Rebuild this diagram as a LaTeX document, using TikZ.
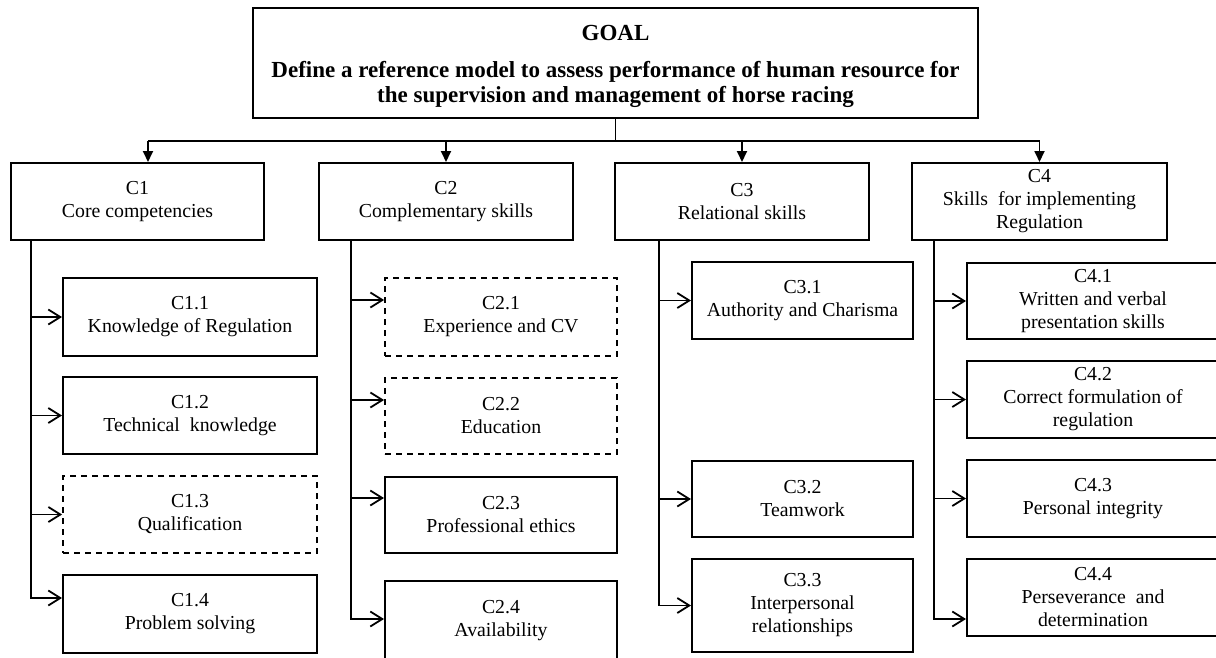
\documentclass[tikz,border=0pt]{standalone}
\usepackage{fontspec}
\setmainfont{Liberation Serif}
\usetikzlibrary{arrows.meta}
\tikzset{
  box/.style={draw, line width=2pt, inner sep=0pt, align=center,
    font=\fontsize{19.8}{23}\selectfont},
  dbox/.style={box, line width=1.8pt, dash pattern=on 6pt off 5pt},
  gbox/.style={draw, line width=2pt, inner sep=0pt},
  gtext/.style={inner sep=0pt, align=center, font=\fontsize{23}{25}\selectfont\bfseries},
  conn/.style={line width=1.8pt, line join=miter},
  sarr/.style={conn, -{Straight Barb[length=12pt,width=15pt,line width=1.8pt]}},
  darr/.style={conn, -{Triangle[length=11pt,width=10pt]}},
}
\begin{document}
\begin{tikzpicture}[x=1pt,y=-1pt]
\useasboundingbox (0,0) rectangle (1216,657);

% goal
\node[gbox, minimum width=725pt, minimum height=110pt] (goal) at (615.5,63) {};
\node[gtext] (goaltext) at (615.5,66.5)
  {GOAL\\[11.5pt]Define a reference model to assess performance of human resource for\\the supervision and management of horse racing};

% criteria
\node[box, minimum width=253pt, minimum height=77pt] (c1) at (137.5,201.5) {C1\\Core competencies};
\node[box, minimum width=254pt, minimum height=77pt] (c2) at (446,201.5) {C2\\Complementary skills};
\node[box, minimum width=254pt, minimum height=77pt] (c3) at (742,201.5) {C3\\Relational skills};
\node[box, minimum width=255pt, minimum height=77pt] (c4) at (1039.5,201.5) {C4\\Skills\ \ for implementing\\Regulation};

% bar
\coordinate (b1) at (148,141);
\coordinate (b4) at (1039.5,141);
\draw[conn] (goal.south) -- (goal.south |- b1);
\draw[conn] (b1) -- (b4);
\draw[darr] (b1) -- (b1 |- c1.north);
\draw[darr] (c2.north |- b1) -- (c2.north);
\draw[darr] (c3.north |- b1) -- (c3.north);
\draw[darr] (c4.north |- b1) -- (c4.north);

% C1 children
\node[box, minimum width=254pt, minimum height=78pt] (c11) at (190,317) {C1.1\\Knowledge of Regulation};
\node[box, minimum width=254pt, minimum height=77pt] (c12) at (190,415.5) {C1.2\\Technical\ \ knowledge};
\node[dbox, minimum width=254pt, minimum height=77pt] (c13) at (190,514.5) {C1.3\\Qualification};
\node[box, minimum width=254pt, minimum height=78pt] (c14) at (190,614) {C1.4\\Problem solving};

% C2 children
\node[dbox, minimum width=232pt, minimum height=78pt] (c21) at (501,317) {C2.1\\Experience and CV};
\node[dbox, minimum width=232pt, minimum height=76pt] (c22) at (501,416) {C2.2\\Education};
\node[box, minimum width=232pt, minimum height=76pt] (c23) at (501,515) {C2.3\\Professional ethics};
\node[box, minimum width=232pt, minimum height=80pt] (c24) at (501,621) {C2.4\\Availability};

% C3 children
\node[box, minimum width=221pt, minimum height=77pt] (c31) at (802.5,300.5) {C3.1\\Authority and Charisma};
\node[box, minimum width=221pt, minimum height=76pt] (c32) at (802.5,499) {C3.2\\Teamwork};
\node[box, minimum width=221pt, minimum height=93pt] (c33) at (802.5,605.5) {C3.3\\Interpersonal\\relationships};

% C4 children
\node[box, minimum width=252pt, minimum height=76pt] (c41) at (1093,301) {C4.1\\Written and verbal\\presentation skills};
\node[box, minimum width=252pt, minimum height=77pt] (c42) at (1093,399.5) {C4.2\\Correct formulation of\\regulation};
\node[box, minimum width=252pt, minimum height=77pt] (c43) at (1093,498.5) {C4.3\\Personal integrity};
\node[box, minimum width=252pt, minimum height=77pt] (c44) at (1093,597.5) {C4.4\\Perseverance\ \ and\\determination};

% trunks
\coordinate (t1) at (31,0);
\coordinate (t2) at (351,0);
\coordinate (t3) at (659,0);
\coordinate (t4) at (934,0);

% arrow end points that are not at mid-height
\coordinate (a14) at ([yshift=16pt]c14.west);
\coordinate (a21) at ([yshift=17pt]c21.west);
\coordinate (a22) at ([yshift=16pt]c22.west);
\coordinate (a23) at ([yshift=17pt]c23.west);
\coordinate (a24) at ([yshift=2pt]c24.west);
\coordinate (a44) at ([yshift=-21.5pt]c44.west);

% C1 connectors
\draw[sarr] (c1.south -| t1) |- (a14);
\draw[sarr] (t1 |- c11.west) -- (c11.west);
\draw[sarr] (t1 |- c12.west) -- (c12.west);
\draw[sarr] (t1 |- c13.west) -- (c13.west);

% C2 connectors
\draw[sarr] (c2.south -| t2) |- (a24);
\draw[sarr] (t2 |- a21) -- (a21);
\draw[sarr] (t2 |- a22) -- (a22);
\draw[sarr] (t2 |- a23) -- (a23);

% C3 connectors
\draw[sarr] (c3.south -| t3) |- (c33.west);
\draw[sarr] (t3 |- c31.west) -- (c31.west);
\draw[sarr] (t3 |- c32.west) -- (c32.west);

% C4 connectors
\draw[sarr] (c4.south -| t4) |- (a44);
\draw[sarr] (t4 |- c41.west) -- (c41.west);
\draw[sarr] (t4 |- c42.west) -- (c42.west);
\draw[sarr] (t4 |- c43.west) -- (c43.west);
\end{tikzpicture}
\end{document}
